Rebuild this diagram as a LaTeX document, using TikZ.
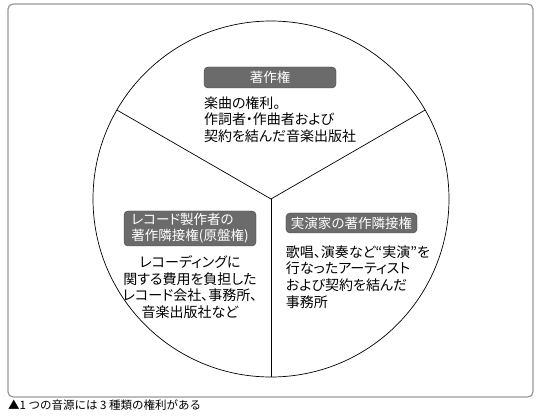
\documentclass[tikz,border=0pt]{standalone}
\usepackage{fontspec}
\setmainfont{Noto Sans CJK JP}
\newfontfamily\propjp[RawFeature=+palt]{Noto Sans CJK JP}
\usetikzlibrary{positioning}

\begin{document}
\begin{tikzpicture}[x=1pt,y=-1pt,
    headbox/.style={draw=black!75,fill=black!58,text=white,rounded corners=4pt,
      minimum width=132pt,inner xsep=5pt,inner ysep=3pt,font=\propjp\fontsize{13.5}{16}\selectfont},
    bodytext/.style={inner sep=0pt,font=\propjp\fontsize{14}{16.7}\selectfont}]
            \useasboundingbox (0,0) rectangle (542,420);
            \draw[black!40,line width=1.2pt,rounded corners=5pt] (8,4) rectangle (533,397);

            % the circle and its three spokes (y runs downwards here)
            \coordinate (mid) at (271,199);
            \draw[line width=0.7pt] (mid) circle (178);
            \draw[line width=0.7pt] (mid)--++(210:178);
            \draw[line width=0.7pt] (mid)--++(330:178);
            \draw[line width=0.7pt] (mid)--++(90:178);

            \node[headbox,minimum height=21pt] (copyhead) at (270,77.5) {著作権};
            \node[bodytext,align=left,anchor=north west] (copybody) at ([yshift=-8pt]copyhead.south west)
              {楽曲の権利。\\作詞者・作曲者および\\契約を結んだ音楽出版社};

            \node[headbox,align=left,minimum height=35pt,inner ysep=2pt] (rechead) at (190,228.5)
              {レコード製作者の\\著作隣接権(原盤権)};
            \node[bodytext,align=center,below=9pt of rechead] (recbody)
              {レコーディングに\\関する費用を負担した\\レコード会社、事務所、\\音楽出版社など};

            \node[headbox,minimum height=20pt,minimum width=131pt] (perfhead) at (351.5,223) {実演家の著作隣接権};
            \node[bodytext,align=left,anchor=north west] (perfbody) at ([yshift=-12pt]perfhead.south west)
              {歌唱、演奏など“実演”を\\行なったアーティスト\\および契約を結んだ\\事務所};

            \node[inner sep=0pt,anchor=west,font=\fontsize{11.5}{13}\selectfont] (caption) at (8,405)
              {▲1 つの音源には 3 種類の権利がある};
        \end{tikzpicture}
\end{document}
